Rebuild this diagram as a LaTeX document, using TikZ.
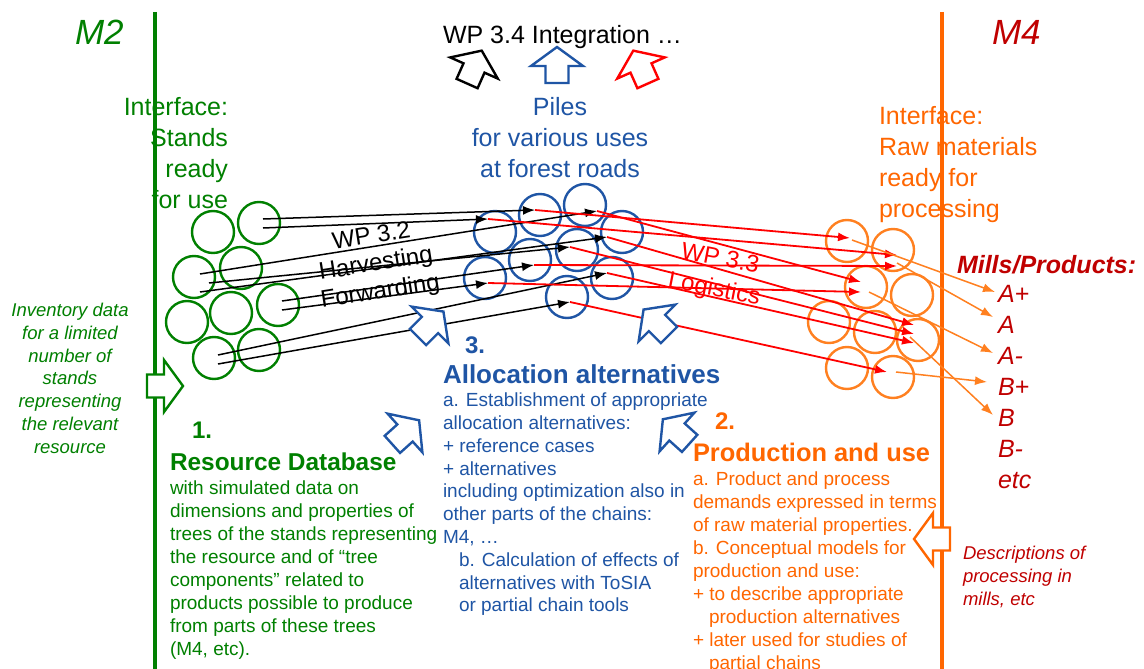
\documentclass[tikz,border=0pt]{standalone}
\usepackage{fontspec}
\setmainfont{Liberation Sans}
\usetikzlibrary{arrows.meta}
\definecolor{mgreen}{RGB}{0,128,0}
\definecolor{mblue}{RGB}{31,85,165}
\definecolor{morange}{RGB}{255,102,0}
\definecolor{corange}{RGB}{255,128,32}
\definecolor{dred}{RGB}{192,0,0}
\definecolor{mred}{RGB}{255,0,0}
\newcommand\fsz[2]{\fontsize{#1}{#2}\selectfont}
\newcommand\hollowarr[4]{\draw[#1,line width=2.4pt,fill=white,line join=miter,shift={(#2,#3)},rotate=#4] (0,-19) -- (26,0) -- (11.5,0) -- (11.5,17) -- (-11.5,17) -- (-11.5,0) -- (-26,0) -- cycle;}
\begin{document}
\begin{tikzpicture}[x=1pt,y=-1pt,
  gc/.style={circle,draw=mgreen,line width=2.4pt,minimum size=42pt,inner sep=0pt},
  bc/.style={circle,draw=mblue,line width=2.4pt,minimum size=42pt,inner sep=0pt},
  oc/.style={circle,draw=corange,line width=2.4pt,minimum size=42pt,inner sep=0pt},
  blk/.style={draw=black,line width=1.5pt,-{Latex[length=12pt,width=9pt]}},
  rdl/.style={draw=mred,line width=1.8pt,-{Latex[length=12pt,width=9pt]}},
  orl/.style={draw=corange,line width=1.5pt,-{Latex[length=12pt,width=9pt]}},
  txt/.style={inner sep=0pt,outer sep=0pt},
  vline/.style={line width=4pt}]
\useasboundingbox (0,0) rectangle (1144,669);
\fill[white] (0,0) rectangle (1144,669);
% vertical lines
\coordinate (gtop) at (155,12); \coordinate (gbot) at (155,669);
\coordinate (otop) at (942,12); \coordinate (obot) at (942,669);
\draw[vline,mgreen] (gtop) -- (gbot);
\draw[vline,morange] (otop) -- (obot);
% headings
\node[txt,anchor=north west,text=mgreen,font=\fsz{35}{40}\itshape] (m2) at (75,20) {M2};
\node[txt,anchor=north west,text=dred,font=\fsz{35}{40}\itshape] (m4) at (992,20) {M4};
\node[txt,anchor=north west,font=\fsz{25}{29}] (wp34) at (443,25) {WP 3.4 Integration …};
% top hollow arrows
\hollowarr{black}{474}{68}{-24}
\hollowarr{mblue}{557}{66}{0}
\hollowarr{mred}{641}{68}{24}
% interface texts
\node[txt,anchor=north east,align=right,text=mgreen,font=\fsz{25}{31}] (ifl) at (228,97) {Interface:\\Stands\\ready\\for use};
\node[txt,anchor=north,align=center,text=mblue,font=\fsz{25}{31}] (piles) at (560,97) {Piles\\for various uses\\at forest roads};
\node[txt,anchor=north west,align=left,text=morange,font=\fsz{25}{31}] (ifr) at (879,106) {Interface:\\Raw materials\\ready for\\processing};
% circles
\foreach \n/\x/\y in {1/213/232,2/259/223,3/194/277,4/241/268,5/187/322,6/231/313,7/278/305,8/214/358,9/259/350}
  \node[gc] (g\n) at (\x,\y) {};
\foreach \n/\x/\y in {1/495/232,2/540/215,3/585/205,4/622/232,5/530/260,6/577/250,7/485/278,8/612/278,9/567/297}
  \node[bc] (b\n) at (\x,\y) {};
\foreach \n/\x/\y in {1/847/241,2/893/250,3/866/287,4/912/295,5/829/322,6/875/332,7/918/340,8/847/368,9/893/377}
  \node[oc] (o\n) at (\x,\y) {};
% connector points
\foreach \n/\x/\y in {1/263/219,2/263/228,3/200/274,4/209/283,5/200/292,6/282/301,7/282/310,8/218/355,9/218/364}
  \coordinate (s\n) at (\x,\y);
\foreach \n/\x/\y in {1/535/210,2/488/219,3/597/211,4/570/247,5/607/237,6/534/265,7/488/283,8/607/273,9/570/302}
  \coordinate (p\n) at (\x,\y);
\foreach \n/\x/\y in {1/850/238,2/897/255,3/861/282,4/914/334,5/914/325,6/897/266,7/861/292,8/914/343,9/887/372}
  \coordinate (r\n) at (\x,\y);
\foreach \n in {1,...,9} \draw[blk] (s\n) -- (p\n);
\foreach \n in {1,...,9} \draw[rdl] (p\n) -- (r\n);
% products
\node[txt,anchor=north west,text=dred,font=\fsz{25}{30}\bfseries\itshape] (mills) at (957,255) {Mills/Products:};
\node[txt,anchor=north west,align=left,text=dred,font=\fsz{25}{31}\itshape] (prods) at (998,285) {A+\\A\\A-\\B+\\B\\B-\\etc};
\coordinate (qa1) at (852,240); \coordinate (ta1) at (995,292);
\coordinate (qa2) at (897,263); \coordinate (ta2) at (993,317);
\coordinate (qa3) at (869,292); \coordinate (ta3) at (993,353);
\coordinate (qb1) at (896,372); \coordinate (tb1) at (987,382);
\coordinate (qb2) at (910,337); \coordinate (tb2) at (993,415);
\foreach \a in {a1,a2,a3,b1,b2} \draw[orl] (q\a) -- (t\a);
% WP labels
\node[txt,align=center,rotate=9,font=\fsz{24}{28}] (wp32) at (376,265) {WP 3.2\\Harvesting\\Forwarding};
\node[txt,align=center,rotate=-11,text=mred,font=\fsz{24}{31}] (wp33) at (717,275) {WP 3.3\\Logistics};
% side texts
\node[txt,anchor=north,align=center,text=mgreen,font=\fsz{18.5}{22.8}\itshape] (inv) at (70,303) {Inventory data\\for a limited\\number of\\stands\\representing\\the relevant\\resource};
\node[txt,anchor=north west,align=left,text=dred,font=\fsz{18.5}{23}\itshape] (desc) at (963,546) {Descriptions of\\processing in\\mills, etc};
% side hollow arrows
\hollowarr{mgreen}{164}{386}{-90}
\hollowarr{morange}{933}{539}{90}
% blue hollow arrows
\hollowarr{mblue}{430}{325}{-45}
\hollowarr{mblue}{657}{323}{45}
\hollowarr{mblue}{405}{433}{-48}
\hollowarr{mblue}{677}{432}{48}
% section 1
\node[txt,anchor=north west,text=mgreen,font=\fsz{24}{28}\bfseries] (n1) at (192,422) {1.};
\node[txt,anchor=north west,text=mgreen,font=\fsz{24.4}{28}\bfseries] (rdb) at (170,453) {Resource Database};
\node[txt,anchor=north west,align=left,text=mgreen,font=\fsz{19}{23}] (rdbt) at (170,481) {with simulated data on\\dimensions and properties of\\trees of the stands representing\\the resource and of “tree\\components” related to\\products possible to produce\\from parts of these trees\\(M4, etc).};
% section 3
\node[txt,anchor=north west,text=mblue,font=\fsz{24}{28}\bfseries] (n3) at (465,337) {3.};
\node[txt,anchor=north west,text=mblue,font=\fsz{26}{30}\bfseries] (alt) at (443,365) {Allocation alternatives};
\node[txt,anchor=north west,align=left,text=mblue,font=\fsz{19}{22.8}] (altt) at (443,393) {a. Establishment of appropriate\\allocation alternatives:\\+ reference cases\\+ alternatives\\including optimization also in\\other parts of the chains:\\M4, …\\\hspace*{16pt}b. Calculation of effects of\\\hspace*{16pt}alternatives with ToSIA\\\hspace*{16pt}or partial chain tools};
% section 2
\node[txt,anchor=north west,text=morange,font=\fsz{24}{28}\bfseries] (n2) at (715,413) {2.};
\node[txt,anchor=north west,text=morange,font=\fsz{25.4}{30}\bfseries] (pu) at (693,443) {Production and use};
\node[txt,anchor=north west,align=left,text=morange,font=\fsz{19}{23}] (put) at (693,472) {a. Product and process\\demands expressed in terms\\of raw material properties.\\b. Conceptual models for\\production and use:\\+ to describe appropriate\\\hspace*{16pt}production alternatives\\+ later used for studies of\\\hspace*{16pt}partial chains};
\end{tikzpicture}
\end{document}
